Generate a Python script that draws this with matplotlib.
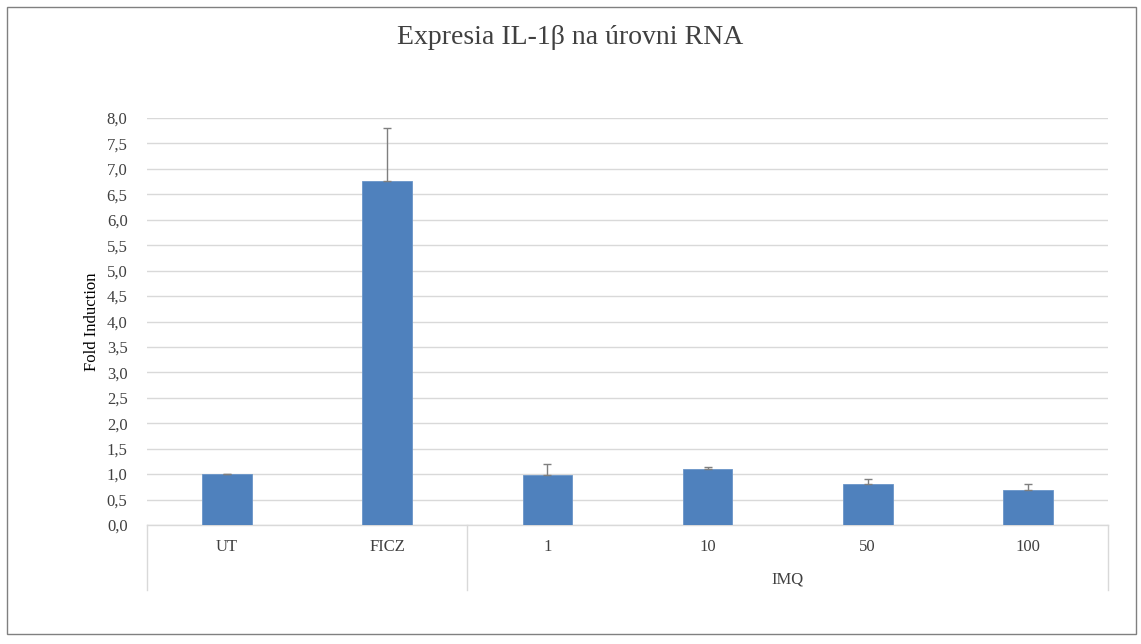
import matplotlib
matplotlib.use("Agg")
import matplotlib.pyplot as plt
from matplotlib.patches import Rectangle
import matplotlib.transforms as mtransforms
import numpy as np

categories = ["UT", "FICZ", "1", "10", "50", "100"]
values = [1.00, 6.76, 0.98, 1.10, 0.81, 0.69]
errors = [0.01, 1.04, 0.21, 0.04, 0.09, 0.11]
group_label = "IMQ"
yticks = [0.0, 0.5, 1.0, 1.5, 2.0, 2.5, 3.0, 3.5, 4.0, 4.5, 5.0, 5.5, 6.0, 6.5, 7.0, 7.5, 8.0]
title = "Expresia IL-1β na úrovni RNA"
ylabel = "Fold Induction"

plt.rcParams["font.family"] = ["Liberation Serif", "DejaVu Serif"]

fig = plt.figure(figsize=(11.41, 6.44), dpi=100)
ax = fig.add_axes([147/1141, (644-525)/644, (1108-147)/1141, (525-118)/644])

x = np.arange(len(categories))
ax.bar(x, values, width=0.31, color="#4F81BD", edgecolor="#6A95C8", linewidth=0.6, zorder=3)
ax.errorbar(x, values, yerr=[np.zeros(len(errors)), errors], fmt="none",
            ecolor="#7F7F7F", elinewidth=1.0, capsize=3, capthick=1.0, zorder=4)

ax.set_xlim(-0.5, len(categories) - 0.5)
ax.set_ylim(0, 8)
ax.set_yticks(yticks)
ax.set_yticklabels([f"{v:.1f}".replace(".", ",") for v in yticks], fontsize=12, color="#404040")
ax.yaxis.grid(True, color="#D9D9D9", linewidth=1.0, zorder=0)
ax.set_axisbelow(True)
for s in ["top", "right", "left"]:
    ax.spines[s].set_visible(False)
ax.spines["bottom"].set_color("#D9D9D9")
ax.spines["bottom"].set_linewidth(1.0)
ax.tick_params(axis="y", length=0, pad=14)
ax.tick_params(axis="x", length=0)
ax.set_xticks([])

ax.set_ylabel(ylabel, fontsize=12, color="#000000", labelpad=4)
ax.yaxis.set_label_coords(-0.049, 0.5)

trans = mtransforms.blended_transform_factory(ax.transData, ax.transAxes)
depth = -(590 - 525) / (525 - 118)
for xv in [-0.5, 1.5, len(categories) - 0.5]:
    ax.plot([xv, xv], [0, depth], transform=trans, color="#D9D9D9", linewidth=1.0, clip_on=False)

label_y = -(547 - 525) / (525 - 118)
for xi, c in zip(x, categories):
    ax.text(xi, label_y, c, transform=trans, ha="center", va="center", fontsize=12, color="#404040")
group_y = -(580 - 525) / (525 - 118)
ax.text((2 + len(categories) - 1) / 2, group_y, group_label, transform=trans,
        ha="center", va="center", fontsize=12, color="#404040")

fig.text(0.5, (644 - 38) / 644, title, ha="center", va="center", fontsize=20, color="#404040")

fig.patches.append(Rectangle((7/1141, (644-634)/644), (1136-7)/1141, (634-7)/644,
                             transform=fig.transFigure, fill=False, edgecolor="#808080", linewidth=1.0))

fig.savefig("out.png", dpi=100)
